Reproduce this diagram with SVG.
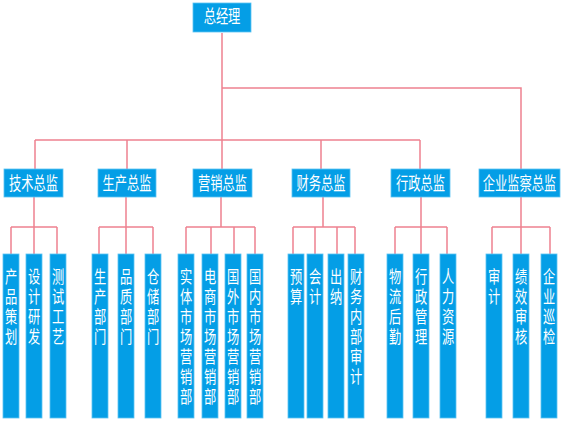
<svg xmlns="http://www.w3.org/2000/svg" width="562" height="424" viewBox="0 0 562 424">
<style>
.box{fill:#049ee6;stroke:#5cc3f2;stroke-width:0.8}
.t{font-family:"Noto Sans CJK SC","Noto Sans",sans-serif;font-size:18px;fill:#ffffff;text-anchor:middle}
.c{font-family:"Liberation Sans","Noto Sans CJK SC",sans-serif;font-size:17.5px;fill:#ffffff;text-anchor:middle}
.ln{stroke:#ee8190;stroke-width:1.5;fill:none}
</style>
<rect width="562" height="424" fill="#ffffff"/>
<g id="connectors">
<path class="ln" d="M222 33V140M222 88H521V169M35 140H420M35 140V169M127 140V169M222 140V169M321 140V169M420 140V169"/>
<path class="ln" d="M34 197V227M11 227H57M11 227V254M34 227V254M57 227V254"/>
<path class="ln" d="M126 197V227M99 227H153M99 227V254M126 227V254M153 227V254"/>
<path class="ln" d="M221 197V227M186 227H255M186 227V254M211 227V254M234 227V254M255 227V254"/>
<path class="ln" d="M323 197V227M293 227H355M293 227V254M315 227V254M337 227V254M355 227V254"/>
<path class="ln" d="M421 197V227M395 227H447M395 227V254M421 227V254M447 227V254"/>
<path class="ln" d="M521 197V227M492 227H550M492 227V254M521 227V254M550 227V254"/>
</g>
<g id="n0"><rect class="box" x="193" y="3" width="58" height="29"/><text class="t" transform="translate(222,23) scale(0.68,1)">总经理</text></g>
<g id="n1"><rect class="box" x="4" y="169" width="59" height="28"/><text class="t" transform="translate(33.5,190) scale(0.68,1)">技术总监</text></g>
<g id="n2"><rect class="box" x="98" y="169" width="58" height="28"/><text class="t" transform="translate(127,190) scale(0.68,1)">生产总监</text></g>
<g id="n3"><rect class="box" x="193" y="169" width="59" height="28"/><text class="t" transform="translate(222.5,190) scale(0.68,1)">营销总监</text></g>
<g id="n4"><rect class="box" x="292" y="169" width="58" height="28"/><text class="t" transform="translate(321,190) scale(0.68,1)">财务总监</text></g>
<g id="n5"><rect class="box" x="391" y="169" width="59" height="28"/><text class="t" transform="translate(420.5,190) scale(0.68,1)">行政总监</text></g>
<g id="n6"><rect class="box" x="479" y="169" width="81" height="28"/><text class="t" transform="translate(519.5,190) scale(0.68,1)">企业监察总监</text></g>

<g id="l1"><rect class="box" x="3" y="254" width="16" height="164"/><text class="c" transform="translate(11,283) scale(0.7,1)"><tspan x="0" y="0">产</tspan><tspan x="0" y="20">品</tspan><tspan x="0" y="40">策</tspan><tspan x="0" y="60">划</tspan></text></g>
<g id="l2"><rect class="box" x="26" y="254" width="16" height="164"/><text class="c" transform="translate(34,283) scale(0.7,1)"><tspan x="0" y="0">设</tspan><tspan x="0" y="20">计</tspan><tspan x="0" y="40">研</tspan><tspan x="0" y="60">发</tspan></text></g>
<g id="l3"><rect class="box" x="50" y="254" width="16" height="164"/><text class="c" transform="translate(58,283) scale(0.7,1)"><tspan x="0" y="0">测</tspan><tspan x="0" y="20">试</tspan><tspan x="0" y="40">工</tspan><tspan x="0" y="60">艺</tspan></text></g>

<g id="l4"><rect class="box" x="92" y="254" width="16" height="164"/><text class="c" transform="translate(100,283) scale(0.7,1)"><tspan x="0" y="0">生</tspan><tspan x="0" y="20">产</tspan><tspan x="0" y="40">部</tspan><tspan x="0" y="60">门</tspan></text></g>
<g id="l5"><rect class="box" x="118" y="254" width="16" height="164"/><text class="c" transform="translate(126,283) scale(0.7,1)"><tspan x="0" y="0">品</tspan><tspan x="0" y="20">质</tspan><tspan x="0" y="40">部</tspan><tspan x="0" y="60">门</tspan></text></g>
<g id="l6"><rect class="box" x="145" y="254" width="16" height="164"/><text class="c" transform="translate(153,283) scale(0.7,1)"><tspan x="0" y="0">仓</tspan><tspan x="0" y="20">储</tspan><tspan x="0" y="40">部</tspan><tspan x="0" y="60">门</tspan></text></g>

<g id="l7"><rect class="box" x="178" y="254" width="16" height="164"/><text class="c" transform="translate(186,283) scale(0.7,1)"><tspan x="0" y="0">实</tspan><tspan x="0" y="20">体</tspan><tspan x="0" y="40">市</tspan><tspan x="0" y="60">场</tspan><tspan x="0" y="80">营</tspan><tspan x="0" y="100">销</tspan><tspan x="0" y="120">部</tspan></text></g>
<g id="l8"><rect class="box" x="202" y="254" width="16" height="164"/><text class="c" transform="translate(210,283) scale(0.7,1)"><tspan x="0" y="0">电</tspan><tspan x="0" y="20">商</tspan><tspan x="0" y="40">市</tspan><tspan x="0" y="60">场</tspan><tspan x="0" y="80">营</tspan><tspan x="0" y="100">销</tspan><tspan x="0" y="120">部</tspan></text></g>
<g id="l9"><rect class="box" x="225" y="254" width="16" height="164"/><text class="c" transform="translate(233,283) scale(0.7,1)"><tspan x="0" y="0">国</tspan><tspan x="0" y="20">外</tspan><tspan x="0" y="40">市</tspan><tspan x="0" y="60">场</tspan><tspan x="0" y="80">营</tspan><tspan x="0" y="100">销</tspan><tspan x="0" y="120">部</tspan></text></g>
<g id="l10"><rect class="box" x="247" y="254" width="16" height="164"/><text class="c" transform="translate(255,283) scale(0.7,1)"><tspan x="0" y="0">国</tspan><tspan x="0" y="20">内</tspan><tspan x="0" y="40">市</tspan><tspan x="0" y="60">场</tspan><tspan x="0" y="80">营</tspan><tspan x="0" y="100">销</tspan><tspan x="0" y="120">部</tspan></text></g>

<g id="l11"><rect class="box" x="288" y="254" width="16" height="164"/><text class="c" transform="translate(296,283) scale(0.7,1)"><tspan x="0" y="0">预</tspan><tspan x="0" y="20">算</tspan></text></g>
<g id="l12"><rect class="box" x="307" y="254" width="16" height="164"/><text class="c" transform="translate(315,283) scale(0.7,1)"><tspan x="0" y="0">会</tspan><tspan x="0" y="20">计</tspan></text></g>
<g id="l13"><rect class="box" x="328" y="254" width="16" height="164"/><text class="c" transform="translate(336,283) scale(0.7,1)"><tspan x="0" y="0">出</tspan><tspan x="0" y="20">纳</tspan></text></g>
<g id="l14"><rect class="box" x="348" y="254" width="16" height="164"/><text class="c" transform="translate(356,283) scale(0.7,1)"><tspan x="0" y="0">财</tspan><tspan x="0" y="20">务</tspan><tspan x="0" y="40">内</tspan><tspan x="0" y="60">部</tspan><tspan x="0" y="80">审</tspan><tspan x="0" y="100">计</tspan></text></g>

<g id="l15"><rect class="box" x="387" y="254" width="16" height="164"/><text class="c" transform="translate(395,283) scale(0.7,1)"><tspan x="0" y="0">物</tspan><tspan x="0" y="20">流</tspan><tspan x="0" y="40">后</tspan><tspan x="0" y="60">勤</tspan></text></g>
<g id="l16"><rect class="box" x="413" y="254" width="16" height="164"/><text class="c" transform="translate(421,283) scale(0.7,1)"><tspan x="0" y="0">行</tspan><tspan x="0" y="20">政</tspan><tspan x="0" y="40">管</tspan><tspan x="0" y="60">理</tspan></text></g>
<g id="l17"><rect class="box" x="440" y="254" width="16" height="164"/><text class="c" transform="translate(448,283) scale(0.7,1)"><tspan x="0" y="0">人</tspan><tspan x="0" y="20">力</tspan><tspan x="0" y="40">资</tspan><tspan x="0" y="60">源</tspan></text></g>

<g id="l18"><rect class="box" x="486" y="254" width="16" height="164"/><text class="c" transform="translate(494,283) scale(0.7,1)"><tspan x="0" y="0">审</tspan><tspan x="0" y="20">计</tspan></text></g>
<g id="l19"><rect class="box" x="513" y="254" width="16" height="164"/><text class="c" transform="translate(521,283) scale(0.7,1)"><tspan x="0" y="0">绩</tspan><tspan x="0" y="20">效</tspan><tspan x="0" y="40">审</tspan><tspan x="0" y="60">核</tspan></text></g>
<g id="l20"><rect class="box" x="541" y="254" width="16" height="164"/><text class="c" transform="translate(549,283) scale(0.7,1)"><tspan x="0" y="0">企</tspan><tspan x="0" y="20">业</tspan><tspan x="0" y="40">巡</tspan><tspan x="0" y="60">检</tspan></text></g>
</svg>
